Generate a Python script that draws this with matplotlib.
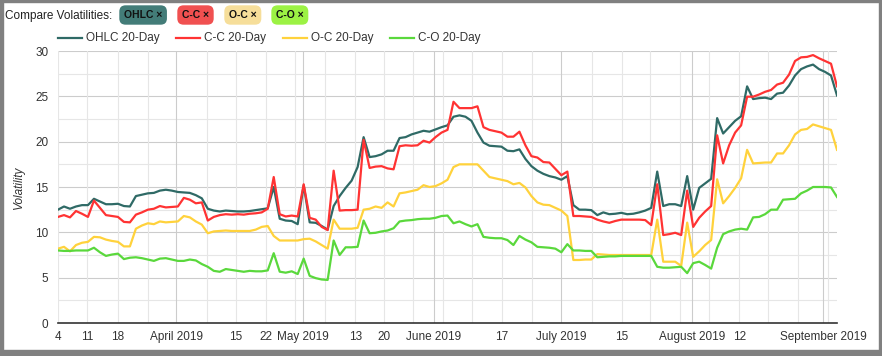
import matplotlib
matplotlib.use("Agg")
import matplotlib.pyplot as plt
from matplotlib.lines import Line2D
from matplotlib.patches import Rectangle

plt.rcParams['font.family'] = ['Liberation Sans', 'DejaVu Sans']

# trading-day values, 4 March 2019 .. 6 September 2019
ohlc = [12.5, 12.85, 12.6, 12.85, 13.0, 13.0, 13.7, 13.4, 13.1, 13.1,
        13.15, 12.9, 12.85, 14.0, 14.15, 14.3, 14.35, 14.6, 14.7, 14.6,
        14.45, 14.4, 14.35, 14.1, 13.75, 12.6, 12.4, 12.3, 12.4, 12.35,
        12.3, 12.3, 12.35, 12.45, 12.55, 12.65, 15.0, 11.5, 11.3, 11.25,
        10.9, 15.2, 11.1, 11.05, 10.7, 10.3, 12.9, 14.0, 14.9, 15.7,
        17.2, 20.5, 18.3, 18.4, 18.6, 19.0, 19.0, 20.4, 20.5, 20.8,
        21.0, 21.2, 21.1, 21.35, 21.6, 21.8, 22.75, 22.9, 22.75, 22.3,
        21.0, 19.9, 19.55, 19.5, 19.45, 19.0, 18.95, 19.15, 18.1, 17.3,
        16.8, 16.45, 16.2, 16.05, 15.8, 16.2, 13.0, 12.5, 12.5, 12.45,
        11.9, 12.2, 12.0, 12.05, 12.15, 12.0, 12.05, 12.2, 12.4, 12.7,
        16.7, 12.9, 13.1, 13.1, 12.9, 16.2, 12.5, 14.9, 15.4, 15.9,
        22.6, 20.9, 21.6, 22.3, 22.8, 26.1, 24.7, 24.8, 24.85, 24.7,
        25.3, 25.4, 26.2, 27.3, 28.0, 28.3, 28.5, 28.0, 27.7, 27.3,
        25.1]
cc = [11.7, 11.9, 11.65, 12.35, 12.05, 11.7, 13.5, 12.7, 11.9, 11.8,
      11.7, 11.15, 11.1, 11.95, 12.2, 12.5, 12.6, 12.9, 12.75, 12.8,
      12.85, 13.8, 13.6, 13.2, 13.3, 11.3, 11.7, 11.9, 12.0, 11.95,
      12.0, 11.95, 12.05, 12.1, 12.2, 12.6, 16.1, 12.0, 11.75, 11.85,
      11.75, 15.3, 11.6, 11.4, 10.6, 10.25, 16.8, 12.4, 12.45, 12.45,
      12.5, 20.2, 17.1, 17.25, 17.3, 17.05, 16.95, 19.5, 19.6, 19.55,
      19.6, 20.1, 19.9, 20.5, 21.0, 21.3, 24.4, 23.7, 23.7, 23.7,
      23.9, 21.6, 21.3, 21.15, 21.0, 20.55, 20.55, 21.1, 19.6, 18.4,
      18.25, 17.75, 17.7, 17.0, 16.3, 16.7, 11.8, 11.8, 11.75, 11.7,
      11.4, 11.2, 11.05, 11.25, 11.4, 11.4, 11.4, 11.4, 11.35, 10.8,
      15.3, 9.7, 9.8, 9.95, 9.7, 14.6, 10.6, 11.6, 12.3, 12.9,
      20.7, 17.6, 19.6, 21.0, 21.8, 24.96, 24.96, 25.2, 25.5, 25.7,
      26.3, 26.5, 27.4, 28.9, 29.3, 29.35, 29.55, 29.2, 28.9, 28.6,
      26.1]
oc = [8.2, 8.4, 7.9, 8.6, 8.85, 8.95, 9.5, 9.45, 9.2, 9.05,
      8.95, 8.45, 8.45, 10.4, 10.75, 11.0, 10.9, 11.2, 11.1, 11.15,
      11.2, 11.8, 11.65, 11.2, 10.85, 9.9, 10.1, 10.15, 10.2, 10.15,
      10.15, 10.15, 10.15, 10.3, 10.6, 10.7, 9.6, 9.1, 9.1, 9.1,
      9.1, 9.25, 9.3, 9.0, 8.6, 8.2, 11.4, 10.4, 10.4, 10.4,
      10.5, 12.5, 12.6, 12.85, 12.7, 13.3, 12.85, 14.3, 14.4, 14.55,
      14.7, 15.2, 15.0, 15.1, 15.4, 15.8, 17.2, 17.5, 17.5, 17.5,
      17.5, 16.8, 16.1, 15.95, 15.8, 15.65, 15.3, 15.45, 14.95, 14.0,
      13.3, 13.05, 13.0, 12.7, 12.4, 11.8, 6.95, 6.95, 7.0, 7.0,
      7.6, 7.55, 7.5, 7.5, 7.5, 7.5, 7.5, 7.5, 7.5, 7.5,
      11.4, 6.76, 6.76, 6.76, 6.3, 11.07, 7.3, 7.9, 8.6, 9.15,
      15.85, 13.2, 14.0, 14.9, 15.96, 19.1, 17.6, 17.65, 17.7, 17.7,
      18.7, 18.7, 19.6, 20.8, 21.3, 21.4, 21.9, 21.7, 21.5, 21.3,
      19.1]
co = [8.0, 7.95, 7.95, 8.0, 8.0, 8.0, 8.3, 7.8, 7.4, 7.55,
      7.65, 7.05, 7.2, 7.25, 7.15, 7.0, 6.85, 7.1, 7.15, 7.0,
      6.85, 6.85, 7.0, 6.9, 6.5, 6.2, 5.75, 5.65, 5.95, 5.85,
      5.75, 5.65, 5.75, 5.7, 5.7, 5.8, 7.7, 5.66, 5.55, 5.7,
      5.4, 7.1, 5.2, 4.95, 4.8, 4.75, 9.1, 7.5, 8.35, 8.35,
      8.4, 11.3, 9.9, 9.95, 10.1, 10.2, 10.45, 11.2, 11.3, 11.35,
      11.45, 11.5, 11.5, 11.6, 11.8, 11.85, 11.0, 11.2, 10.9, 10.65,
      10.9, 9.5, 9.4, 9.35, 9.35, 9.15, 8.6, 9.6, 9.2, 8.9,
      8.4, 8.35, 8.3, 8.2, 7.8, 8.7, 8.0, 8.0, 7.95, 7.95,
      7.25, 7.3, 7.35, 7.35, 7.4, 7.4, 7.4, 7.4, 7.4, 7.4,
      6.2, 6.1, 6.1, 6.15, 6.2, 5.5, 6.6, 6.76, 6.4, 6.0,
      8.3, 9.8, 10.1, 10.3, 10.4, 10.3, 11.65, 11.7, 12.0, 12.5,
      12.5, 13.6, 13.65, 13.7, 14.3, 14.6, 15.0, 15.0, 15.0, 14.95,
      13.9]

series_names = ["OHLC 20-Day", "C-C 20-Day", "O-C 20-Day", "C-O 20-Day"]
series_colors = ["#2f6a66", "#ff3333", "#ffd23c", "#5ad83c"]
pill_labels = ["OHLC", "C-C", "O-C", "C-O"]
pill_colors = ["#437c78", "#f05050", "#f6de9a", "#9cf244"]

# x axis (trading-day index) labels
tick_pos = [0, 4.85, 10.0, 19.7, 29.7, 34.7, 40.9, 49.6, 54.4, 62.7,
            74.1, 83.9, 94.1, 105.8, 113.7, 127.7]
tick_labels = ["4", "11", "18", "April 2019", "15", "22", "May 2019", "13",
               "20", "June 2019", "17", "July 2019", "15", "August 2019",
               "12", "September 2019"]
week_lines = [0, 4.85, 10.0, 15.0, 24.9, 29.7, 34.7, 39.6, 44.6, 49.6, 54.4,
              59.3, 64.3, 69.1, 74.1, 79.1, 89.1, 94.1, 98.8, 103.8, 108.6,
              113.7, 118.5, 123.5, 128.5]
month_lines = [19.7, 40.9, 62.7, 83.9, 105.8, 127.7]

W, H = 882, 356
fig = plt.figure(figsize=(W / 100, H / 100), dpi=100)
ax = fig.add_axes([58 / W, (H - 323) / H, 779 / W, 272 / H])

for y in range(5, 31, 5):
    ax.axhline(y, color="#cccccc", lw=0.8, zorder=0)
for y in [2.5, 7.5, 12.5, 17.5, 22.5, 27.5]:
    ax.axhline(y, color="#e6e6e6", lw=0.8, zorder=0)
for x in week_lines:
    ax.axvline(x, color="#e6e6e6", lw=0.8, zorder=0)
for x in month_lines:
    ax.axvline(x, color="#cccccc", lw=0.8, zorder=0)

xs = list(range(len(ohlc)))
for vals, col in zip([ohlc, cc, oc, co], series_colors):
    ax.plot(xs, vals, color=col, lw=1.6, solid_joinstyle="round", zorder=3)

ax.set_xlim(0, 130)
ax.set_ylim(0, 30)
ax.set_yticks(range(0, 31, 5))
ax.set_xticks(tick_pos)
ax.set_xticklabels(tick_labels)
ax.tick_params(axis="both", length=0, labelsize=8.5, colors="#333333")
ax.tick_params(axis="x", pad=6)
ax.tick_params(axis="y", pad=7)
for s in ["top", "right", "left"]:
    ax.spines[s].set_visible(False)
ax.spines["bottom"].set_color("#333333")
ax.spines["bottom"].set_linewidth(1.2)
ax.set_ylabel("Volatility", fontstyle="italic", fontsize=8.5, color="#333333",
              labelpad=7)

# header: selector pills
fig.text(5 / W, 1 - 16 / H, "Compare Volatilities:", fontsize=8.5,
         color="#222222", va="center", ha="left")
pill_x = [124, 182, 229, 276]
for px, lab, pc in zip(pill_x, pill_labels, pill_colors):
    fig.text(px / W, 1 - 15 / H, lab + " \u00d7", fontsize=7.5, weight="bold",
             color="#111111", va="center", ha="left",
             bbox=dict(boxstyle="round,pad=0.45,rounding_size=0.6", fc=pc,
                       ec="none"))

# legend row
leg_x = [58, 176, 283, 390]
for lx, name, col in zip(leg_x, series_names, series_colors):
    fig.add_artist(Line2D([lx / W, (lx + 24) / W], [1 - 38 / H, 1 - 38 / H],
                          color=col, lw=1.6, transform=fig.transFigure))
    fig.text((lx + 28) / W, 1 - 38.5 / H, name, fontsize=8.5, color="#333333",
             va="center", ha="left")

# grey frame
frame = "#808080"
fig.add_artist(Rectangle((0, 0), 3 / W, 1, color=frame, transform=fig.transFigure))
fig.add_artist(Rectangle((0, 1 - 2 / H), 1, 2 / H, color=frame, transform=fig.transFigure))
fig.add_artist(Rectangle((1 - 3 / W, 0), 3 / W, 1, color=frame, transform=fig.transFigure))
fig.add_artist(Rectangle((0, 0), 1, 6 / H, color=frame, transform=fig.transFigure))

fig.savefig("out.png", dpi=100)
